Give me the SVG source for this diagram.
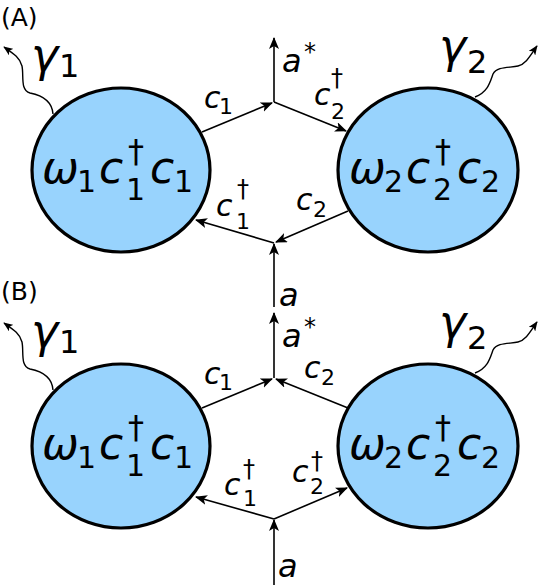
<svg xmlns="http://www.w3.org/2000/svg" width="539" height="585" viewBox="0 0 539 585">
<defs>
<marker id="arr" viewBox="0 0 12 10" refX="11" refY="5" markerWidth="12" markerHeight="10" markerUnits="userSpaceOnUse" orient="auto">
<path d="M0,0 L12,5 L0,10 L3,5 z" fill="#000"/>
</marker>
<marker id="arrs" viewBox="0 0 12 10" refX="11" refY="5" markerWidth="10" markerHeight="8" markerUnits="userSpaceOnUse" orient="auto">
<path d="M0,0 L12,5 L0,10 L3,5 z" fill="#000"/>
</marker>
</defs>
<style>
.node{fill:#98D3FD;stroke:#000;stroke-width:3.2}
.conn{fill:none;stroke:#000;stroke-width:1.6;marker-end:url(#arr)}
.wave{fill:none;stroke:#000;stroke-width:1.4;marker-end:url(#arrs)}
.m{font-style:italic}
.n{font-style:normal}
</style>
<rect width="539" height="585" fill="#fff"/>

<text x="1" y="26" font-family="DejaVu Sans, sans-serif" font-size="25">(A)</text>
<text x="1" y="300" font-family="DejaVu Sans, sans-serif" font-size="25">(B)</text>

<g id="A-mode1" font-family="DejaVu Sans, sans-serif">
<ellipse class="node" cx="121" cy="170" rx="89" ry="82"/>
<text class="m" x="42" y="183" font-size="44">ω</text>
<text class="n" x="77" y="192" font-size="30">1</text>
<text class="m" x="99" y="183" font-size="44">c</text>
<text class="n" x="136" y="162" font-size="32" text-anchor="middle">†</text>
<text class="n" x="126" y="200" font-size="30">1</text>
<text class="m" x="150" y="183" font-size="44">c</text>
<text class="n" x="174" y="192" font-size="30">1</text>
</g>
<g id="A-mode2" font-family="DejaVu Sans, sans-serif">
<ellipse class="node" cx="428" cy="170" rx="90" ry="82"/>
<text class="m" x="349" y="183" font-size="44">ω</text>
<text class="n" x="384" y="192" font-size="30">2</text>
<text class="m" x="406" y="183" font-size="44">c</text>
<text class="n" x="443" y="162" font-size="32" text-anchor="middle">†</text>
<text class="n" x="433" y="200" font-size="30">2</text>
<text class="m" x="457" y="183" font-size="44">c</text>
<text class="n" x="481" y="192" font-size="30">2</text>
</g>

<g id="B-mode1" font-family="DejaVu Sans, sans-serif">
<ellipse class="node" cx="121" cy="446" rx="89" ry="82"/>
<text class="m" x="42" y="459" font-size="44">ω</text>
<text class="n" x="77" y="468" font-size="30">1</text>
<text class="m" x="99" y="459" font-size="44">c</text>
<text class="n" x="136" y="438" font-size="32" text-anchor="middle">†</text>
<text class="n" x="126" y="476" font-size="30">1</text>
<text class="m" x="150" y="459" font-size="44">c</text>
<text class="n" x="174" y="468" font-size="30">1</text>
</g>
<g id="B-mode2" font-family="DejaVu Sans, sans-serif">
<ellipse class="node" cx="428" cy="446" rx="90" ry="82"/>
<text class="m" x="349" y="459" font-size="44">ω</text>
<text class="n" x="384" y="468" font-size="30">2</text>
<text class="m" x="406" y="459" font-size="44">c</text>
<text class="n" x="443" y="438" font-size="32" text-anchor="middle">†</text>
<text class="n" x="433" y="476" font-size="30">2</text>
<text class="m" x="457" y="459" font-size="44">c</text>
<text class="n" x="481" y="468" font-size="30">2</text>
</g>

<g id="connectors">
<path class="conn" d="M202,132 L272,103"/>
<path class="conn" d="M274,102 L346,131"/>
<path class="conn" d="M274,102 L274,38"/>
<path class="conn" d="M274,307 L274,244"/>
<path class="conn" d="M348,211 L276,242"/>
<path class="conn" d="M274,243 L196,220"/>
<path class="wave" d="M53,114 C52,100 40,95 30,93 C20,90 24,76 22,66 C20,58 14,54 4,47"/>
<path class="wave" d="M475,97 C488,92 490,82 493,74 C497,66 510,68 518,66 C526,64 530,56 537,46"/>
<path class="conn" d="M202,408 L272,379"/>
<path class="conn" d="M348,408 L276,379"/>
<path class="conn" d="M274,378 L274,313"/>
<path class="conn" d="M274,585 L274,520"/>
<path class="conn" d="M274,519 L196,497"/>
<path class="conn" d="M274,519 L347,488"/>
<path class="wave" d="M53,390 C52,376 40,371 30,369 C20,366 24,352 22,342 C20,334 14,330 4,323"/>
<path class="wave" d="M475,373 C488,368 490,358 493,350 C497,342 510,344 518,342 C526,340 530,332 537,322"/>
</g>

<g id="A-labels" font-family="DejaVu Sans, sans-serif">
<text class="m" x="31" y="71" font-size="46">γ</text>
<text class="n" x="59" y="77" font-size="32">1</text>
<text class="m" x="439" y="62" font-size="46">γ</text>
<text class="n" x="467" y="73" font-size="32">2</text>
<text class="m" x="204" y="108" font-size="30">c</text>
<text class="n" x="219" y="114" font-size="22">1</text>
<text class="m" x="282" y="72" font-size="32">a</text>
<text class="n" x="304" y="60" font-size="24">*</text>
<text class="m" x="314" y="105" font-size="30">c</text>
<text class="n" x="337" y="86" font-size="24" text-anchor="middle">†</text>
<text class="n" x="331" y="119" font-size="22">2</text>
<text class="m" x="216" y="216" font-size="30">c</text>
<text class="n" x="243" y="197" font-size="24" text-anchor="middle">†</text>
<text class="n" x="236" y="229" font-size="22">1</text>
<text class="m" x="296" y="210" font-size="30">c</text>
<text class="n" x="313" y="217" font-size="22">2</text>
<text class="m" x="279" y="306" font-size="32">a</text>
</g>

<g id="B-labels" font-family="DejaVu Sans, sans-serif">
<text class="m" x="31" y="347" font-size="46">γ</text>
<text class="n" x="59" y="353" font-size="32">1</text>
<text class="m" x="439" y="338" font-size="46">γ</text>
<text class="n" x="467" y="349" font-size="32">2</text>
<text class="m" x="204" y="384" font-size="30">c</text>
<text class="n" x="219" y="390" font-size="22">1</text>
<text class="m" x="282" y="347" font-size="32">a</text>
<text class="n" x="304" y="335" font-size="24">*</text>
<text class="m" x="304" y="378" font-size="30">c</text>
<text class="n" x="321" y="385" font-size="22">2</text>
<text class="m" x="224" y="495" font-size="30">c</text>
<text class="n" x="249" y="477" font-size="24" text-anchor="middle">†</text>
<text class="n" x="243" y="506" font-size="22">1</text>
<text class="m" x="292" y="482" font-size="30">c</text>
<text class="n" x="317" y="469" font-size="24" text-anchor="middle">†</text>
<text class="n" x="310" y="494" font-size="22">2</text>
<text class="m" x="278" y="577" font-size="32">a</text>
</g>
</svg>
